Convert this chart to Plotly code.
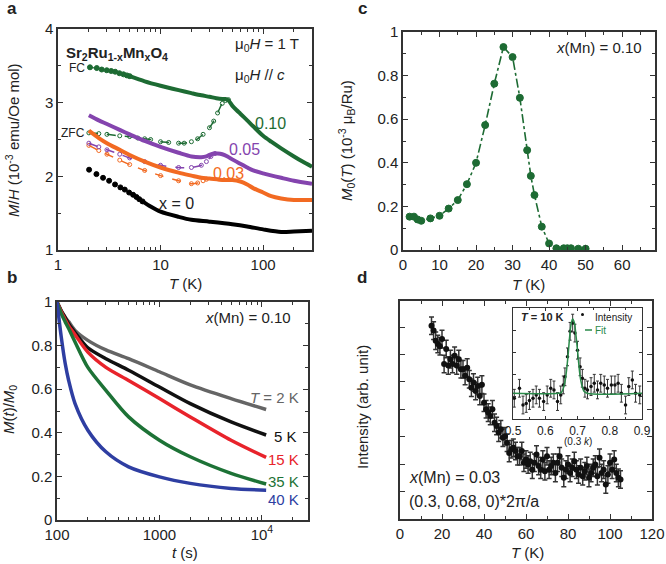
import plotly.graph_objects as go

FONT = "Liberation Sans, Arial, sans-serif"
GREEN = "#1d6b33"
PURPLE = "#8444ae"
ORANGE = "#f26a22"

# ---------------- Panel a data ----------------
a_x0_sparse_T = [2.01, 2.37, 2.75, 3.15, 3.6, 4.06, 4.48, 4.94, 5.4, 5.82, 6.2, 6.67]
a_x0_sparse_M = [2.09, 2.03, 1.98, 1.94, 1.89, 1.85, 1.82, 1.78, 1.75, 1.72, 1.69, 1.66]
a_x0_T = [6.67, 8, 10, 15, 20, 30, 50, 70, 100, 150, 200, 300]
a_x0_M = [1.66, 1.59, 1.52, 1.45, 1.41, 1.385, 1.35, 1.32, 1.28, 1.245, 1.25, 1.26]

a_g_fc_sparse_T = [2.05, 2.39, 2.67, 2.99, 3.3, 3.61, 3.97, 4.35, 4.7, 5.0]
a_g_fc_sparse_M = [3.48, 3.47, 3.45, 3.44, 3.43, 3.42, 3.40, 3.385, 3.37, 3.36]
a_g_fc_T = [5, 7, 10, 15, 20, 25, 30, 35, 40, 43, 46, 50, 55, 60, 70, 80, 100, 120, 150, 200, 250, 300]
a_g_fc_M = [3.36, 3.29, 3.23, 3.17, 3.13, 3.10, 3.08, 3.06, 3.05, 3.05, 3.03, 2.96, 2.90, 2.85, 2.76, 2.68, 2.55, 2.47, 2.38, 2.27, 2.19, 2.13]
a_g_zfc_T = [2, 2.5, 3, 4, 5, 6, 7, 8, 10, 12, 15, 17, 20, 23, 26, 30, 33, 36, 40, 43, 46]
a_g_zfc_M = [2.59, 2.58, 2.57, 2.55, 2.54, 2.52, 2.51, 2.50, 2.47, 2.46, 2.45, 2.45, 2.47, 2.51, 2.57, 2.66, 2.75, 2.86, 2.99, 3.03, 3.04]

a_p_fc_T = [2, 2.5, 3, 4, 5, 7, 10, 15, 20, 25, 28, 30, 33, 36, 40, 45, 50, 60, 70, 80, 100, 150, 200, 300]
a_p_fc_M = [2.83, 2.76, 2.71, 2.63, 2.57, 2.48, 2.40, 2.32, 2.27, 2.26, 2.27, 2.29, 2.31, 2.31, 2.30, 2.27, 2.23, 2.17, 2.12, 2.08, 2.04, 1.98, 1.94, 1.90]
a_p_zfc_T = [2, 2.5, 3, 4, 5, 7, 10, 15, 20, 25, 28, 31, 34]
a_p_zfc_M = [2.45, 2.40, 2.36, 2.30, 2.25, 2.20, 2.15, 2.12, 2.12, 2.15, 2.20, 2.27, 2.31]

a_o_fc_T = [2, 2.5, 3, 4, 5, 7, 10, 15, 20, 25, 30, 40, 50, 60, 70, 80, 100, 120, 150, 200, 300]
a_o_fc_M = [2.62, 2.52, 2.45, 2.36, 2.29, 2.20, 2.12, 2.05, 2.01, 1.98, 1.97, 1.95, 1.95, 1.93, 1.89, 1.84, 1.78, 1.73, 1.70, 1.68, 1.68]
a_o_zfc_T = [2, 2.5, 3, 4, 5, 7, 10, 15, 20, 23, 26, 28]
a_o_zfc_M = [2.42, 2.35, 2.30, 2.22, 2.16, 2.08, 2.01, 1.94, 1.90, 1.91, 1.94, 1.96]

# ---------------- Panel b data ----------------
b_t = [100, 110, 120, 130, 150, 200, 300, 500, 1000, 2000, 5000, 11000]
b_2K = [1.0, 0.96, 0.93, 0.91, 0.87, 0.824, 0.78, 0.74, 0.68, 0.62, 0.557, 0.507]
b_5K = [1.0, 0.96, 0.93, 0.90, 0.86, 0.79, 0.74, 0.687, 0.61, 0.534, 0.45, 0.39]
b_15K = [1.0, 0.955, 0.92, 0.89, 0.85, 0.77, 0.70, 0.64, 0.557, 0.473, 0.366, 0.287]
b_35K = [1.0, 0.947, 0.91, 0.878, 0.817, 0.70, 0.595, 0.473, 0.366, 0.29, 0.214, 0.165]
b_40K = [1.0, 0.84, 0.72, 0.64, 0.534, 0.412, 0.313, 0.244, 0.198, 0.168, 0.145, 0.137]

# ---------------- Panel c data ----------------
c_T = [1.8, 3, 4, 5, 7.5, 10, 12.5, 15, 17.5, 20, 22.5, 25, 27.5, 30, 32, 34, 35, 36, 38, 40, 42, 44, 45, 46, 48, 50]
c_M0 = [0.153, 0.153, 0.14, 0.134, 0.145, 0.157, 0.19, 0.229, 0.302, 0.40, 0.573, 0.763, 0.931, 0.885, 0.698, 0.458, 0.34, 0.252, 0.107, 0.03, 0.008, 0.008, 0.008, 0.008, 0.006, 0.006]

# ---------------- Panel d data ----------------
d_T = list(range(15, 106))
d_I = [7.05, 6.87, 6.5, 6.38, 6.3, 6.56, 5.65, 6.2, 5.6, 5.83, 5.65, 5.95, 5.6, 5.83, 5.46, 5.46,
       5.22, 5.52, 5.1, 4.79, 4.98, 4.67, 4.85, 4.49, 4.9, 4.24, 4.0, 3.88, 3.76, 4.0, 3.51, 3.39,
       3.15, 3.27, 2.96, 3.02, 2.78, 2.41, 2.54, 2.6, 2.48, 2.29, 2.29, 2.48, 2.05, 2.17, 1.99, 2.11,
       1.8, 2.05, 2.35, 1.93, 1.8, 2.17, 1.74, 2.29, 1.8, 1.93, 2.05, 1.68, 2.05, 2.29, 1.87, 1.5,
       1.8, 1.99, 1.68, 1.87, 2.11, 1.8, 1.62, 1.87, 1.56, 1.74, 1.93, 1.5, 1.68, 1.87, 1.99, 1.56,
       2.23, 1.68, 1.8, 1.26, 1.62, 2.05, 1.8, 2.17, 1.68, 1.5, 1.44]
d_err = 0.32

ins_k = [0.504, 0.52, 0.531, 0.541, 0.551, 0.562, 0.572, 0.582, 0.595, 0.606, 0.617, 0.627, 0.638,
         0.648, 0.656, 0.661, 0.669, 0.677, 0.685, 0.692, 0.70, 0.708, 0.715, 0.723, 0.731, 0.742,
         0.752, 0.762, 0.772, 0.783, 0.793, 0.805, 0.816, 0.826, 0.836, 0.849, 0.859, 0.87, 0.88, 0.893]
ins_I = [0.187, 0.277, 0.126, 0.14, 0.166, 0.187, 0.217, 0.187, 0.157, 0.217, 0.277, 0.262, 0.157,
         0.217, 0.307, 0.38, 0.56, 0.79, 0.864, 0.774, 0.62, 0.47, 0.367, 0.277, 0.262, 0.292,
         0.322, 0.262, 0.322, 0.307, 0.277, 0.307, 0.307, 0.322, 0.232, 0.126, 0.292, 0.352, 0.232, 0.217]
ins_err = 0.08
fit_k = [0.5, 0.64, 0.65, 0.66, 0.67, 0.675, 0.68, 0.685, 0.69, 0.695, 0.70, 0.71, 0.72, 0.73, 0.9]
fit_I = [0.232, 0.232, 0.24, 0.32, 0.55, 0.72, 0.85, 0.9, 0.87, 0.76, 0.62, 0.35, 0.25, 0.232, 0.232]

fig = go.Figure()

def ln(x, y, color, xa, ya, width=3.5, dash="solid", mode="lines", msize=4, msym="circle", shape="spline"):
    fig.add_trace(go.Scatter(
        x=x, y=y, mode=mode, xaxis=xa, yaxis=ya, showlegend=False, hoverinfo="skip",
        line=dict(color=color, width=width, dash=dash, shape=shape, smoothing=0.8),
        marker=dict(size=msize, symbol=msym, color=color, line=dict(color=color, width=1))))

# panel a
ln(a_x0_sparse_T, a_x0_sparse_M, "black", "x", "y", mode="markers", msize=5)
ln(a_x0_T, a_x0_M, "black", "x", "y", width=4)
ln(a_o_zfc_T, a_o_zfc_M, ORANGE, "x", "y", width=1.5, dash="dash", mode="lines+markers", msize=4, msym="circle-open")
ln(a_p_zfc_T, a_p_zfc_M, PURPLE, "x", "y", width=1.5, dash="dash", mode="lines+markers", msize=4, msym="circle-open")
ln(a_g_zfc_T, a_g_zfc_M, GREEN, "x", "y", width=1.5, dash="dash", mode="lines+markers", msize=4, msym="circle-open")
ln(a_o_fc_T, a_o_fc_M, ORANGE, "x", "y", width=4)
ln(a_p_fc_T, a_p_fc_M, PURPLE, "x", "y", width=4)
ln(a_g_fc_sparse_T, a_g_fc_sparse_M, GREEN, "x", "y", width=1.2, dash="dash", mode="lines+markers", msize=5)
ln(a_g_fc_T, a_g_fc_M, GREEN, "x", "y", width=4)

# panel b
for ys, col in [(b_2K, "#656565"), (b_5K, "#111111"), (b_15K, "#e8232b"), (b_35K, "#1d7236"), (b_40K, "#2e3ea2")]:
    ln(b_t, ys, col, "x2", "y2", width=3.5, mode="lines")

# panel c
ln(c_T, c_M0, GREEN, "x3", "y3", width=1.6, dash="dashdot", mode="lines+markers", msize=7, shape="linear")

# panel d
fig.add_trace(go.Scatter(x=d_T, y=d_I, mode="markers", xaxis="x4", yaxis="y4", showlegend=False,
                         marker=dict(size=6, color="#111"),
                         error_y=dict(type="constant", value=d_err, color="#333", thickness=1.5, width=2.5)))
fig.add_trace(go.Scatter(x=ins_k, y=ins_I, mode="markers", xaxis="x5", yaxis="y5", showlegend=False,
                         marker=dict(size=3.5, color="#111"),
                         error_y=dict(type="constant", value=ins_err, color="#333", thickness=1, width=1.5)))
fig.add_trace(go.Scatter(x=fit_k, y=fit_I, mode="lines", xaxis="x5", yaxis="y5", showlegend=False,
                         line=dict(color="#2a8a4a", width=1.5, shape="spline")))

def px2x(p): return p / 666
def px2y(p): return 1 - p / 564

axstyle = dict(showline=True, mirror="allticks", linecolor="#333", linewidth=1.5, ticks="inside",
               ticklen=5, tickwidth=1.2, tickcolor="#333", showgrid=False, zeroline=False,
               automargin=False, tickfont=dict(family=FONT, size=15, color="#222"))

def minor(**kw):
    d = dict(ticks="inside", ticklen=3, tickwidth=1, tickcolor="#333", showgrid=False)
    d.update(kw)
    return d

log_minor_a = [v * m for v in (1, 10, 100) for m in range(2, 10) if v * m <= 300]
log_minor_b = [v * m for v in (100, 1000, 10000) for m in range(2, 10) if v * m <= 28000]

fig.update_layout(
    template="none",
    width=666, height=564, margin=dict(l=0, r=0, t=0, b=0, autoexpand=False),
    paper_bgcolor="white", plot_bgcolor="rgba(0,0,0,0)",
    font=dict(family=FONT, size=15, color="#222"),
    xaxis=dict(axstyle, type="log", range=[0, 2.477], domain=[px2x(58), px2x(312)], anchor="y",
               tickvals=[1, 10, 100], ticktext=["1", "10", "100"],
               minor=minor(tickmode="array", tickvals=log_minor_a)),
    yaxis=dict(axstyle, range=[1, 4], domain=[px2y(250), px2y(29)], anchor="x", dtick=1,
               minor=minor(dtick=0.5)),
    xaxis2=dict(axstyle, type="log", range=[2, 4.45], domain=[px2x(57), px2x(308)], anchor="y2",
                tickvals=[100, 1000, 10000], ticktext=["100", "1000", "10<sup>4</sup>"],
                minor=minor(tickmode="array", tickvals=log_minor_b)),
    yaxis2=dict(axstyle, range=[0, 1], domain=[px2y(520), px2y(302)], anchor="x2",
                tickvals=[0, 0.2, 0.4, 0.6, 0.8, 1], ticktext=["0", "0.2", "0.4", "0.6", "0.8", "1"],
                minor=minor(dtick=0.1)),
    xaxis3=dict(axstyle, range=[0, 69], domain=[px2x(403), px2x(655)], anchor="y3", dtick=10,
                minor=minor(dtick=5)),
    yaxis3=dict(axstyle, range=[0, 1], domain=[px2y(250), px2y(32)], anchor="x3",
                tickvals=[0, 0.2, 0.4, 0.6, 0.8, 1], ticktext=["0", "0.2", "0.4", "0.6", "0.8", "1"],
                minor=minor(dtick=0.1)),
    xaxis4=dict(axstyle, range=[0, 120], domain=[px2x(400), px2x(652)], anchor="y4", dtick=20,
                minor=minor(dtick=10)),
    yaxis4=dict(axstyle, range=[0, 7.95], domain=[px2y(519), px2y(301)], anchor="x4", dtick=1,
                showticklabels=False),
    xaxis5=dict(axstyle, range=[0.5, 0.9], domain=[px2x(513), px2x(642)], anchor="y5", dtick=0.1,
                linewidth=1.2, ticklen=3, tickfont=dict(family=FONT, size=12, color="#222"),
                minor=minor(dtick=0.05, ticklen=2)),
    yaxis5=dict(axstyle, range=[0, 1], domain=[px2y(419), px2y(308)], anchor="x5", dtick=0.2,
                linewidth=1.2, ticklen=3, showticklabels=False),
)

ann = []
def txt(x, y, s, size=15, color="#222", xanchor="left", yanchor="middle", angle=0, bold=False):
    if bold:
        s = "<b>" + s + "</b>"
    ann.append(dict(x=px2x(x), y=px2y(y), xref="paper", yref="paper", text=s, showarrow=False,
                    xanchor=xanchor, yanchor=yanchor, textangle=angle,
                    font=dict(family=FONT, size=size, color=color)))

# panel letters
txt(5, 8, "a", size=17, bold=True)
txt(5, 277, "b", size=17, bold=True)
txt(356, 8, "c", size=17, bold=True)
txt(355, 277, "d", size=17, bold=True)

# panel a texts
txt(64, 53, "Sr<sub>2</sub>Ru<sub>1-x</sub>Mn<sub>x</sub>O<sub>4</sub>", size=15, bold=True)
txt(233, 45, "μ<sub>0</sub><i>H</i> = 1 T", size=15)
txt(233, 76, "μ<sub>0</sub><i>H</i> // <i>c</i>", size=15)
txt(87, 68, "FC", size=12, xanchor="right")
txt(87, 133, "ZFC", size=12, xanchor="right")
txt(253, 123, "0.10", size=16, color=GREEN)
txt(227, 149, "0.05", size=16, color=PURPLE)
txt(211, 173, "0.03", size=16, color=ORANGE)
txt(157, 203, "x = 0", size=16)
txt(12, 140, "<i>M</i>/<i>H</i> (10<sup>-3</sup> emu/Oe mol)", size=15, xanchor="center", angle=-90)
txt(185, 283, "<i>T</i> (K)", size=15, xanchor="center")

# panel b texts
txt(293, 317, "<i>x</i>(Mn) = 0.10", size=15, xanchor="right")
txt(301, 397, "<i>T</i> = 2 K", size=15, color="#656565", xanchor="right")
txt(272, 436, "5 K", size=15, color="#111")
txt(266, 459, "15 K", size=15, color="#e8232b")
txt(266, 481, "35 K", size=15, color="#1d7236")
txt(266, 500, "40 K", size=15, color="#2e3ea2")
txt(9, 410, "<i>M</i>(<i>t</i>)/<i>M</i><sub>0</sub>", size=15, xanchor="center", angle=-90)
txt(185, 552, "<i>t</i> (s)", size=15, xanchor="center")

# panel c texts
txt(644, 47, "<i>x</i>(Mn) = 0.10", size=15, xanchor="right")
txt(346, 140, "<i>M</i><sub>0</sub>(<i>T</i>) (10<sup>-3</sup> μ<sub>B</sub>/Ru)", size=15, xanchor="center", angle=-90)
txt(528, 284, "<i>T</i> (K)", size=15, xanchor="center")

# panel d texts
txt(407, 478, "<i>x</i>(Mn) = 0.03", size=16)
txt(407, 501, "(0.3, 0.68, 0)*2π/a", size=16)
txt(362, 407, "Intensity (arb. unit)", size=15, xanchor="center", angle=-90)
txt(527, 552, "<i>T</i> (K)", size=15, xanchor="center")
txt(519, 317, "<i>T</i> = 10 K", size=11, bold=True)
txt(593, 317, "Intensity", size=10)
txt(593, 330, "Fit", size=10, color="#2a8a4a")
txt(578, 441, "(0.3 <i>k</i>)", size=10, xanchor="center")

fig.update_layout(annotations=ann)

fig.add_shape(type="circle", xref="paper", yref="paper", x0=px2x(581), x1=px2x(584), y0=px2y(313), y1=px2y(316),
              fillcolor="#111", line=dict(color="#111", width=0))
fig.add_shape(type="line", xref="paper", yref="paper", x0=px2x(585), x1=px2x(592), y0=px2y(330), y1=px2y(330),
              line=dict(color="#2a8a4a", width=1.5))

fig.write_html("out.html", config={"displayModeBar": False},
               post_script="document.body.style.margin='0';document.body.style.padding='0';")
